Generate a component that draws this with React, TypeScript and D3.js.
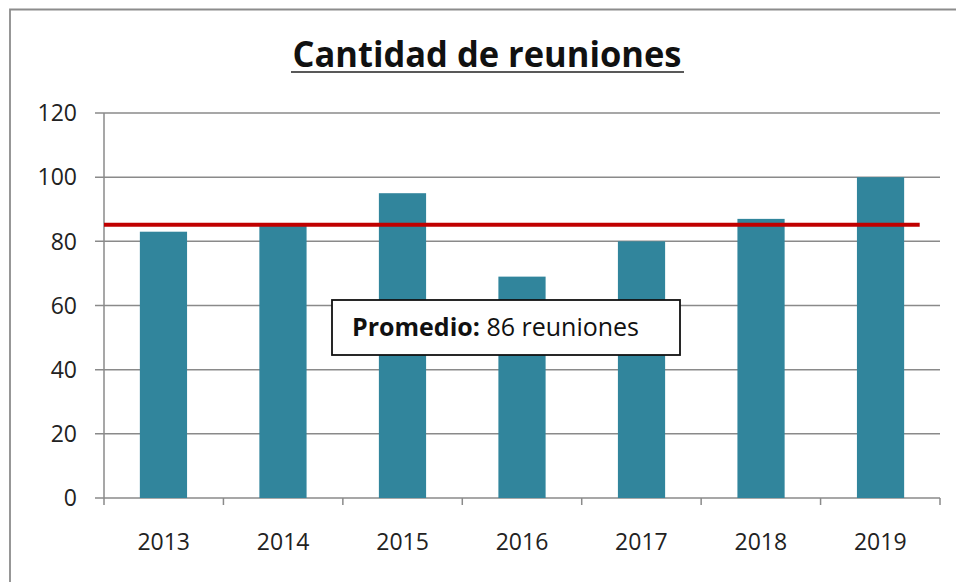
import React from "react";
import * as d3 from "d3";

const years = ["2013", "2014", "2015", "2016", "2017", "2018", "2019"];
const meetings = [83, 85, 95, 69, 80, 87, 100];
const yTicks = [0, 20, 40, 60, 80, 100, 120];
const averageLine = 85.2;
const title = "Cantidad de reuniones";
const noteBold = "Promedio:";
const noteText = " 86 reuniones";

const W = 956;
const H = 582;
const FONT = "'Open Sans', 'Noto Sans', sans-serif";

export default function App() {
  const left = 104;
  const right = 940;
  const top = 113;
  const bottom = 498;

  const x = d3.scaleBand<string>().domain(years).range([left, right]).paddingInner(0.605).paddingOuter(0.3);
  const band = d3.scaleBand<string>().domain(years).range([left, right]).padding(0);
  const y = d3.scaleLinear().domain([0, 120]).range([bottom, top]);

  const lineEnd = (band(years[years.length - 1]) as number) + band.bandwidth() * 0.83;
  const gridColor = "#8a8a8a";

  return (
    <svg
      width={W}
      height={H}
      style={{ position: "absolute", left: 0, top: 0, background: "#fff" }}
      viewBox={`0 0 ${W} ${H}`}
    >
      <rect x={0} y={0} width={W} height={H} fill="#fff" />
      {/* frame */}
      <path d={`M10,${H + 2} L10,9.5 L${W + 2},9.5`} fill="none" stroke="#8c8c8c" strokeWidth={1.8} />

      {/* title */}
      <text
        x={487}
        y={67}
        textAnchor="middle"
        fontFamily={FONT}
        fontWeight="bold"
        fontSize={36}
        textLength={389}
        lengthAdjust="spacingAndGlyphs"
        fill="#111"
      >
        {title}
      </text>
      <line x1={291} x2={684} y1={72} y2={72} stroke="#222" strokeWidth={1.6} />

      {/* gridlines and y labels */}
      {yTicks.map((t) => (
        <g key={t}>
          <line x1={95} x2={right} y1={y(t)} y2={y(t)} stroke={gridColor} strokeWidth={1.5} />
          <text
            x={77}
            y={y(t)}
            dy="0.36em"
            textAnchor="end"
            fontFamily={FONT}
            fontSize={23}
            fill="#222"
          >
            {t}
          </text>
        </g>
      ))}

      {/* y axis */}
      <line x1={left} x2={left} y1={top} y2={bottom + 7} stroke={gridColor} strokeWidth={1.5} />
      {/* category ticks */}
      {years.map((yr) => (
        <line
          key={"t" + yr}
          x1={(band(yr) as number) + band.bandwidth()}
          x2={(band(yr) as number) + band.bandwidth()}
          y1={bottom}
          y2={bottom + 7}
          stroke={gridColor}
          strokeWidth={1.5}
        />
      ))}

      {/* bars */}
      {years.map((yr, i) => (
        <rect
          key={yr}
          x={x(yr)}
          y={y(meetings[i])}
          width={x.bandwidth()}
          height={bottom - y(meetings[i])}
          fill="#31859c"
        />
      ))}

      {/* x labels */}
      {years.map((yr) => (
        <text
          key={"l" + yr}
          x={(band(yr) as number) + band.bandwidth() / 2}
          y={550}
          textAnchor="middle"
          fontFamily={FONT}
          fontSize={23}
          fill="#222"
        >
          {yr}
        </text>
      ))}

      {/* average line */}
      <line x1={left} x2={lineEnd} y1={y(averageLine)} y2={y(averageLine)} stroke="#c00000" strokeWidth={4} />

      {/* annotation */}
      <rect x={332} y={300} width={348} height={55} fill="#fff" stroke="#111" strokeWidth={1.8} />
      <text x={352} y={336} fontFamily={FONT} fontSize={25} fill="#111">
        <tspan fontWeight="bold">{noteBold}</tspan>
        <tspan>{noteText}</tspan>
      </text>
    </svg>
  );
}
